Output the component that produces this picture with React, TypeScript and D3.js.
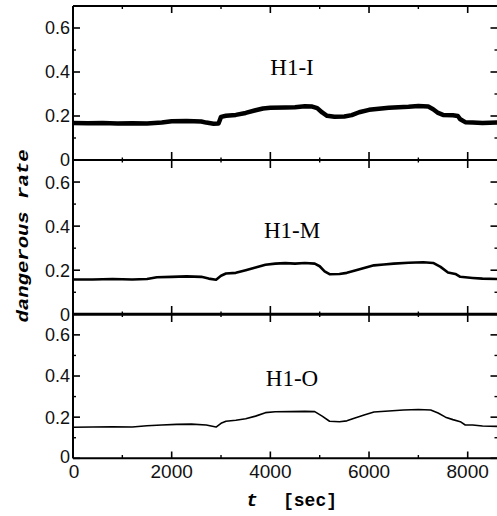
import React from "react";
import * as d3 from "d3";

// ---- data ----
const panelNames = ["H1-I", "H1-M", "H1-O"];

const tI = [0, 300, 600, 900, 1200, 1500, 1800, 2000, 2300, 2600, 2700, 2850, 2950, 3000, 3100, 3300, 3500, 3700, 3850, 4000, 4300, 4500, 4700, 4850, 4950, 5050, 5150, 5300, 5500, 5650, 5800, 6000, 6200, 6400, 6600, 6800, 7000, 7200, 7300, 7400, 7500, 7700, 7800, 7850, 7950, 8100, 8300, 8600];
const vI = [0.168, 0.167, 0.168, 0.166, 0.167, 0.166, 0.170, 0.176, 0.177, 0.175, 0.170, 0.165, 0.166, 0.196, 0.201, 0.205, 0.214, 0.226, 0.234, 0.237, 0.239, 0.240, 0.244, 0.243, 0.236, 0.216, 0.201, 0.197, 0.198, 0.204, 0.217, 0.228, 0.233, 0.237, 0.240, 0.242, 0.245, 0.243, 0.231, 0.214, 0.205, 0.203, 0.200, 0.185, 0.172, 0.170, 0.168, 0.170];

const tM = [0, 400, 800, 1200, 1500, 1700, 2000, 2300, 2600, 2750, 2900, 3000, 3100, 3300, 3500, 3700, 3900, 4100, 4300, 4500, 4700, 4900, 5000, 5100, 5200, 5400, 5550, 5700, 5900, 6100, 6300, 6500, 6800, 7100, 7300, 7450, 7600, 7750, 7850, 7950, 8100, 8300, 8600];
const vM = [0.158, 0.158, 0.160, 0.158, 0.160, 0.168, 0.170, 0.172, 0.170, 0.162, 0.157, 0.175, 0.185, 0.188, 0.200, 0.212, 0.225, 0.230, 0.232, 0.230, 0.233, 0.230, 0.218, 0.195, 0.182, 0.183, 0.188, 0.198, 0.210, 0.222, 0.226, 0.230, 0.234, 0.236, 0.233, 0.215, 0.190, 0.183, 0.170, 0.168, 0.165, 0.162, 0.160];

const tO = [0, 400, 800, 1200, 1500, 1800, 2100, 2400, 2700, 2900, 3000, 3100, 3300, 3500, 3700, 3900, 4100, 4400, 4700, 4900, 5050, 5200, 5400, 5550, 5700, 5900, 6100, 6400, 6700, 7000, 7250, 7400, 7550, 7700, 7850, 7950, 8100, 8300, 8600];
const vO = [0.151, 0.152, 0.153, 0.152, 0.158, 0.162, 0.165, 0.166, 0.162, 0.152, 0.170, 0.180, 0.185, 0.192, 0.205, 0.222, 0.226, 0.227, 0.228, 0.227, 0.205, 0.180, 0.178, 0.182, 0.195, 0.210, 0.225, 0.230, 0.235, 0.237, 0.235, 0.220, 0.200, 0.188, 0.178, 0.162, 0.162, 0.157, 0.155];

const xMajor = [0, 2000, 4000, 6000, 8000];
const xMinor = [1000, 3000, 5000, 7000];
const yMajor = [0, 0.2, 0.4, 0.6];
const yMinor = [0.1, 0.3, 0.5];
const xTickLabels = ["0", "2000", "4000", "6000", "8000"];
const yTickLabels = ["0", "0.2", "0.4", "0.6"];

export default function App() {
  const W = 497, H = 516;
  const x = d3.scaleLinear().domain([0, 8000]).range([73, 467.7]);
  const left = 73, right = 498.5;
  const panels = [
    { t: tI, v: vI, top: 6, bottom: 160, sw: 4.5, label: panelNames[0], ly: 75 },
    { t: tM, v: vM, top: 160, bottom: 314.3, sw: 2.6, label: panelNames[1], ly: 238 },
    { t: tO, v: vO, top: 314.3, bottom: 458.3, sw: 1.6, label: panelNames[2], ly: 386 },
  ];
  const sansFont = "'Liberation Sans', Arial, sans-serif";
  const monoFont = "'Liberation Mono', 'Courier New', monospace";
  const serifFont = "'Liberation Serif', 'Times New Roman', serif";

  return (
    <svg width={W} height={H} style={{ position: "absolute", left: 0, top: 0, background: "#fff" }}>
      <rect x={0} y={0} width={W} height={H} fill="#fff" />
      {panels.map((p, i) => {
        const y = d3.scaleLinear().domain([0, 0.7]).range([p.bottom, p.top]);
        const line = d3.line<number>().x((_, k) => x(p.t[k])).y((d) => y(d));
        return (
          <g key={i}>
            <path d={line(p.v) || ""} fill="none" stroke="#000" strokeWidth={p.sw} strokeLinejoin="round" />
            {yMajor.map((v) => (
              <line key={"lm" + v} x1={left} x2={left + 7} y1={y(v)} y2={y(v)} stroke="#000" strokeWidth={1.6} />
            ))}
            {yMinor.map((v) => (
              <line key={"ln" + v} x1={left} x2={left + 3} y1={y(v)} y2={y(v)} stroke="#000" strokeWidth={1.4} />
            ))}
            {yMajor.map((v) => (
              <line key={"rm" + v} x1={right - 8} x2={right} y1={y(v)} y2={y(v)} stroke="#000" strokeWidth={1.6} />
            ))}
            {yMinor.map((v) => (
              <line key={"rn" + v} x1={right - 4} x2={right} y1={y(v)} y2={y(v)} stroke="#000" strokeWidth={1.4} />
            ))}
            {yMajor.map((v, k) => (
              <text
                key={"yl" + v}
                x={70}
                y={y(v) - (i === 2 && k === 0 ? 2 : 0)}
                dy="0.36em"
                textAnchor="end"
                fontFamily={sansFont}
                fontSize={18}
                fill="#111"
              >
                {yTickLabels[k]}
              </text>
            ))}
            <text x={292} y={p.ly} textAnchor="middle" fontFamily={serifFont} fontSize={23} fill="#000">
              {p.label}
            </text>
          </g>
        );
      })}

      {/* frame lines */}
      <line x1={left} x2={right} y1={6} y2={6} stroke="#000" strokeWidth={2} />
      <line x1={left} x2={right} y1={160} y2={160} stroke="#000" strokeWidth={2} />
      <line x1={left} x2={right} y1={314.3} y2={314.3} stroke="#000" strokeWidth={3} />
      <line x1={left} x2={right} y1={458.3} y2={458.3} stroke="#000" strokeWidth={2} />
      <line x1={left} x2={left} y1={6} y2={458.3} stroke="#000" strokeWidth={2} />
      <line x1={right} x2={right} y1={6} y2={458.3} stroke="#000" strokeWidth={2} />

      {/* x ticks */}
      {xMajor.map((v) => (
        <g key={"xm" + v}>
          <line x1={x(v)} x2={x(v)} y1={6} y2={13} stroke="#000" strokeWidth={1.6} />
          <line x1={x(v)} x2={x(v)} y1={152} y2={168} stroke="#000" strokeWidth={1.6} />
          <line x1={x(v)} x2={x(v)} y1={306} y2={322} stroke="#000" strokeWidth={1.6} />
          <line x1={x(v)} x2={x(v)} y1={451.5} y2={458.3} stroke="#000" strokeWidth={1.6} />
        </g>
      ))}
      {xMinor.map((v) => (
        <g key={"xn" + v}>
          <line x1={x(v)} x2={x(v)} y1={6} y2={9} stroke="#000" strokeWidth={1.4} />
          <line x1={x(v)} x2={x(v)} y1={157.5} y2={162.5} stroke="#000" strokeWidth={1.4} />
          <line x1={x(v)} x2={x(v)} y1={311.5} y2={317} stroke="#000" strokeWidth={1.4} />
          <line x1={x(v)} x2={x(v)} y1={455} y2={458.3} stroke="#000" strokeWidth={1.4} />
        </g>
      ))}
      {xMajor.map((v, k) => (
        <text
          key={"xl" + v}
          x={x(v) + (k === 0 ? 1 : 0)}
          y={477.5}
          textAnchor="middle"
          fontFamily={sansFont}
          fontSize={19}
          fill="#111"
        >
          {xTickLabels[k]}
        </text>
      ))}

      {/* axis titles */}
      <text x={252} y={506} textAnchor="middle" fontFamily={monoFont} fontSize={19} fontWeight="bold" fontStyle="italic" fill="#000">
        t
      </text>
      <text x={283} y={506} fontFamily={monoFont} fontSize={18} fontWeight="bold" textLength={54} fill="#000">
        [sec]
      </text>
      <text
        transform="translate(28,236) rotate(-90)"
        textAnchor="middle"
        fontFamily={monoFont}
        fontSize={17}
        fontWeight="bold"
        fontStyle="italic"
        textLength={173}
        lengthAdjust="spacingAndGlyphs"
        fill="#000"
      >
        dangerous rate
      </text>
    </svg>
  );
}
